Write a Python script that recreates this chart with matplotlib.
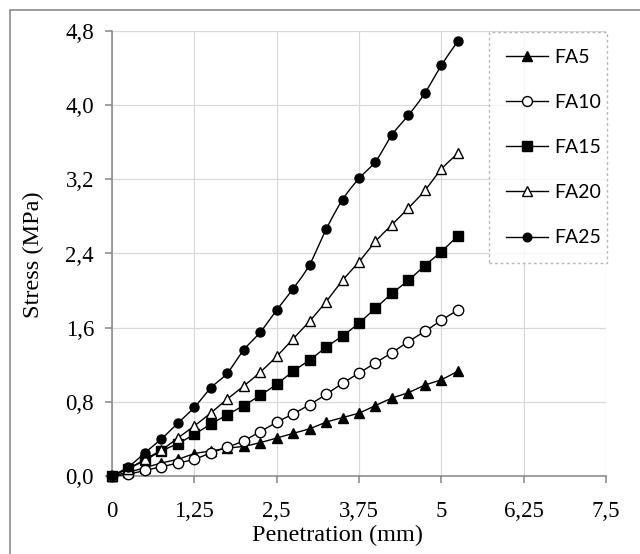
import numpy as np
import matplotlib
matplotlib.use("Agg")
import matplotlib.pyplot as plt
from matplotlib.lines import Line2D
from matplotlib.patches import Rectangle

# Penetration (mm) and stress (MPa) for each fly-ash mix
penetration = [0.0, 0.25, 0.5, 0.75, 1.0, 1.25, 1.5, 1.75, 2.0, 2.25, 2.5,
               2.75, 3.0, 3.25, 3.5, 3.75, 4.0, 4.25, 4.5, 4.75, 5.0, 5.25]
fa5 = [0.0, 0.04, 0.09, 0.14, 0.18, 0.24, 0.27, 0.30, 0.32, 0.36, 0.41,
       0.46, 0.51, 0.58, 0.63, 0.68, 0.76, 0.84, 0.90, 0.98, 1.04, 1.13]
fa10 = [0.0, 0.02, 0.06, 0.10, 0.14, 0.18, 0.25, 0.31, 0.38, 0.48, 0.58,
        0.67, 0.77, 0.88, 1.00, 1.11, 1.22, 1.33, 1.45, 1.56, 1.68, 1.79]
fa15 = [0.0, 0.08, 0.17, 0.27, 0.35, 0.45, 0.56, 0.66, 0.76, 0.87, 0.99,
        1.13, 1.25, 1.39, 1.51, 1.65, 1.81, 1.97, 2.11, 2.27, 2.42, 2.59]
fa20 = [0.0, 0.08, 0.18, 0.28, 0.41, 0.54, 0.68, 0.83, 0.97, 1.12, 1.29,
        1.48, 1.67, 1.88, 2.11, 2.31, 2.53, 2.71, 2.89, 3.08, 3.31, 3.48]
fa25 = [0.0, 0.10, 0.25, 0.40, 0.57, 0.74, 0.95, 1.11, 1.36, 1.55, 1.79,
        2.02, 2.28, 2.66, 2.98, 3.21, 3.39, 3.68, 3.89, 4.13, 4.43, 4.69]
series_names = ["FA5", "FA10", "FA15", "FA20", "FA25"]

x_ticks = [0, 1.25, 2.5, 3.75, 5, 6.25, 7.5]
x_tick_labels = ["0", "1,25", "2,5", "3,75", "5", "6,25", "7,5"]
y_ticks = [0.0, 0.8, 1.6, 2.4, 3.2, 4.0, 4.8]
y_tick_labels = ["0,0", "0,8", "1,6", "2,4", "3,2", "4,0", "4,8"]

styles = [
    dict(marker="^", mfc="black", ms=7),
    dict(marker="o", mfc="white", ms=7.5),
    dict(marker="s", mfc="black", ms=7),
    dict(marker="^", mfc="white", ms=7.5),
    dict(marker="o", mfc="black", ms=6.5),
]


def smooth_curve(x, y, n=24):
    """Catmull-Rom spline through the measured points."""
    p = np.column_stack([x, y])
    ext = np.vstack([2 * p[0] - p[1], p, 2 * p[-1] - p[-2]])
    t = np.linspace(0, 1, n, endpoint=False)[:, None]
    parts = []
    for i in range(1, len(ext) - 2):
        p0, p1, p2, p3 = ext[i - 1], ext[i], ext[i + 1], ext[i + 2]
        seg = 0.5 * (2 * p1 + (-p0 + p2) * t
                     + (2 * p0 - 5 * p1 + 4 * p2 - p3) * t ** 2
                     + (-p0 + 3 * p1 - 3 * p2 + p3) * t ** 3)
        parts.append(seg)
    parts.append(p[-1][None, :])
    c = np.vstack(parts)
    return c[:, 0], c[:, 1]


W, H = 640, 554
fig = plt.figure(figsize=(W / 100, H / 100), dpi=100)
ax = fig.add_axes([112 / W, 1 - 476 / H, (606 - 112) / W, (476 - 31) / H])

grey_spine = "#868686"
for side in ("top", "right"):
    ax.spines[side].set_visible(False)
for side in ("left", "bottom"):
    ax.spines[side].set_color(grey_spine)
    ax.spines[side].set_linewidth(1.1)

ax.set_xlim(0, 7.5)
ax.set_ylim(0, 4.8)
ax.set_xticks(x_ticks)
ax.set_xticklabels(x_tick_labels)
ax.set_yticks(y_ticks)
ax.set_yticklabels(y_tick_labels)
ax.grid(True, color="#d9d9d9", linewidth=0.9)
ax.set_axisbelow(True)
ax.tick_params(axis="both", direction="out", length=5, width=1.1,
               color=grey_spine, labelsize=16.5)
ax.tick_params(axis="x", pad=13)
ax.tick_params(axis="y", pad=8)
for lab in ax.get_xticklabels() + ax.get_yticklabels():
    lab.set_fontfamily("Liberation Serif")

all_series = [fa5, fa10, fa15, fa20, fa25]
handles = []
for vals, st, name in zip(all_series, styles, series_names):
    sx, sy = smooth_curve(penetration, vals)
    ax.plot(sx, sy, color="black", linewidth=1.0, clip_on=False, zorder=3)
    ax.plot(penetration, vals, linestyle="none", marker=st["marker"],
            markerfacecolor=st["mfc"], markeredgecolor="black",
            markeredgewidth=1.0, markersize=st["ms"], clip_on=False, zorder=4)
    handles.append(Line2D([], [], color="black", linewidth=1.0,
                          marker=st["marker"], markerfacecolor=st["mfc"],
                          markeredgecolor="black", markeredgewidth=1.0,
                          markersize=st["ms"] * 0.95, label=name))

leg_h = 0.01
leg = fig.legend(handles=handles, loc="upper left",
                 bbox_to_anchor=(489 / W, 1 - 32 / H - leg_h,
                                 (607 - 489) / W, leg_h),
                 mode="expand", frameon=True, fancybox=False,
                 prop={"family": "Lato", "size": 14},
                 handlelength=2.2, handletextpad=0.3, labelspacing=1.45,
                 borderpad=0.85, borderaxespad=0)
frame = leg.get_frame()
frame.set_edgecolor("#a6a6a6")
frame.set_linestyle((0, (2, 2)))
frame.set_linewidth(1.0)
frame.set_facecolor("white")

fig.text(338 / W, 1 - 541 / H, "Penetration (mm)", ha="center",
         va="baseline", fontsize=17.5, family="Liberation Serif")
fig.text(33 / W, 1 - 255 / H, "Stress (MPa)", ha="center", va="center",
         rotation=90, fontsize=17.5, family="Liberation Serif")

# outer chart border
fig.patches.append(Rectangle((10 / W, -0.1), 1.2, 1.1 - 10 / H,
                             transform=fig.transFigure, fill=False,
                             edgecolor="#8c8c8c", linewidth=1.2))

fig.savefig("out.png", dpi=100)
